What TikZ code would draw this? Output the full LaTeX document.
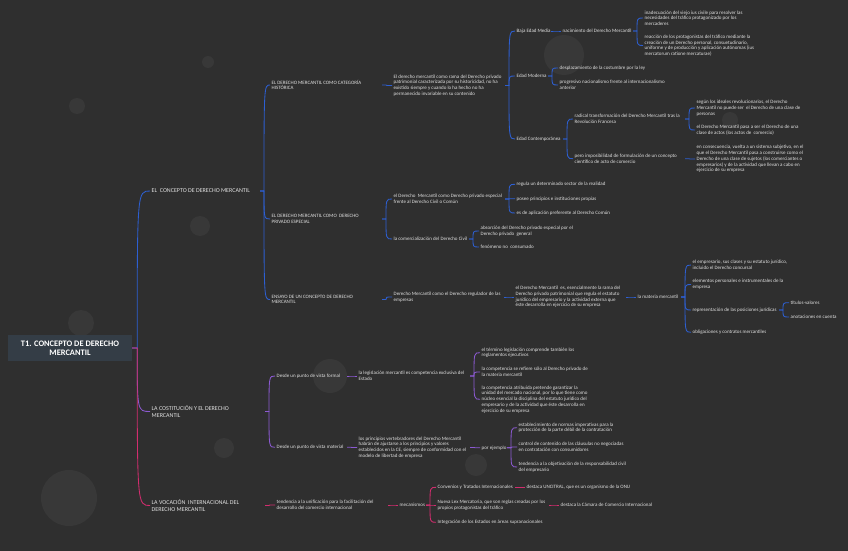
\documentclass[tikz,border=0pt]{standalone}
\usepackage{fontspec}
\setmainfont{Carlito}
\usepackage{tikz}
\usetikzlibrary{calc}
\definecolor{Fondo}{RGB}{47,47,47}
\definecolor{Burbuja}{RGB}{56,56,56}
\definecolor{CajaRaiz}{RGB}{52,61,70}
\definecolor{AzulRama}{RGB}{45,95,210}
\definecolor{MoradoRama}{RGB}{140,90,210}
\definecolor{RosaRama}{RGB}{210,45,110}
\definecolor{TextoGris}{RGB}{225,225,225}

\begin{document}
\begin{tikzpicture}[x=1pt,y=-1pt,
  txt/.style={anchor=west,align=left,inner sep=1.5pt,text=TextoGris,font=\fontsize{5}{5.7}\selectfont},
  cat/.style={txt,font=\fontsize{6}{7}\selectfont},
  raiz/.style={fill=CajaRaiz,text=white,align=center,minimum width=124,minimum height=26,inner sep=2pt,font=\fontsize{8.4}{9.2}\selectfont\bfseries},
  tronco/.style={line width=0.85pt,to path={-- ++(5,0) .. controls ($(\tikztostart |- \tikztotarget)+(5,0)$) .. (\tikztotarget)}},
  rama/.style={line width=0.85pt,to path={($(\tikztostart -| \tikztotarget)+(-10,0)$) -- ++(4,0) .. controls ($(\tikztotarget)+(-6,0)$) .. (\tikztotarget)}}]
  \fill[Fondo] (0,0) rectangle (848,551);
  \useasboundingbox (0,0) rectangle (848,551);
  \foreach \cx/\cy/\r in {77/106/8,208/62/6,200/226/10,81/323/13,224/448/10,69/498/28,564/55/20,730/120/8,330/376/17,476/465/11}
    \fill[Burbuja] (\cx,\cy) circle (\r);

  \node[raiz] (root) at (70,348) {T1. CONCEPTO DE DERECHO\\MERCANTIL};
  \node[cat] (conc) at (150,191) {EL\ \ CONCEPTO DE DERECHO MERCANTIL};
  \node[cat] (const) at (150,411.5) {LA COSTITUCIÓN Y EL DERECHO\\MERCANTIL};
  \node[cat] (voc) at (150,505.5) {LA VOCACIÓN\ \ INTERNACIONAL DEL\\DERECHO MERCANTIL};

  \node[txt] (hist) at (270,85) {EL DERECHO MERCANTIL COMO CATEGORÍA\\HISTÓRICA};
  \node[txt] (priv) at (270,219) {EL DERECHO MERCANTIL COMO\ \ DERECHO\\PRIVADO ESPECIAL};
  \node[txt] (ens) at (270,299.5) {ENSAYO DE UN CONCEPTO DE DERECHO\\MERCANTIL};

  \node[txt] (ramapriv) at (392,85.5) {El derecho mercantil como rama del Derecho privado\\patrimonial caracterizada por su historicidad, no ha\\existido siempre y cuando lo ha hecho no ha\\permanecido invariable en su contenido};
  \node[txt] (baja) at (515,31) {Baja Edad Media};
  \node[txt] (moderna) at (515,76) {Edad Moderna};
  \node[txt] (contemp) at (515,139) {Edad Contemporánea};
  \node[txt] (nacim) at (561,31) {nacimiento del Derecho Mercantil};
  \node[txt] (inad) at (643,18) {inadecuación del viejo ius civile para resolver las\\necesidades del tráfico protagonizado por los\\mercaderes};
  \node[txt] (reacc) at (643,45.5) {reacción de los protagonistas del tráfico mediante la\\creación de un Derecho personal, consuetudinario,\\uniforme y de producción y aplicación autónomas (ius\\mercatorum ratione mercaturae)};
  \node[txt] (despl) at (558,68) {desplazamiento de la costumbre por la ley};
  \node[txt] (progr) at (558,85) {progresivo nacionalismo frente al internacionalismo\\anterior};
  \node[txt] (radical) at (573,119) {radical transformación del Derecho Mercantil tras la\\Revolución Francesa};
  \node[txt] (imposib) at (573,158.7) {pero imposibilidad de formulación de un concepto\\científico de acto de comercio};
  \node[txt] (ideales) at (695,108) {según los ideales revolucionarios, el Derecho\\Mercantil no puede ser\ \ el Derecho de una clase de\\personas};
  \node[txt] (actos) at (695,130) {el Derecho Mercantil pasa a ser el Derecho de una\\clase de actos (los actos de\ \ comercio)};
  \node[txt] (subjet) at (695,159) {en consecuencia, vuelta a un sistema subjetivo, en el\\que el Derecho Mercantil pasa a construirse como el\\Derecho de una clase de sujetos (los comerciantes o\\empresarios) y de la actividad que llevan a cabo en\\ejercicio de su empresa};

  \node[txt] (especial) at (392,199) {el Derecho\ \ Mercantil como Derecho privado especial\\frente al Derecho Civil o Común};
  \node[txt] (comerc) at (392,239) {la comercialización del Derecho Civil};
  \node[txt] (sector) at (515,184.3) {regula un determinado sector de la realidad};
  \node[txt] (princ) at (515,198.7) {posee principios e instituciones propias};
  \node[txt] (prefer) at (515,213) {es de aplicación preferente al Derecho Común};
  \node[txt] (absorc) at (479,231) {absorción del Derecho privado especial por el\\Derecho privado\ \ general};
  \node[txt] (fenom) at (479,247) {fenómeno no\ \ consumado};

  \node[txt] (regul) at (392,297) {Derecho Mercantil como el Derecho regulador de las\\empresas};
  \node[txt] (esenc) at (514,297) {el Derecho Mercantil\ \ es, esencialmente la rama del\\Derecho privado patrimonial que regula el estatuto\\jurídico del empresario y la actividad externa que\\éste desarrolla en ejercicio de su empresa};
  \node[txt] (materia) at (636,297) {la materia mercantil};
  \node[txt] (empres) at (691,265) {el empresario, sus clases y su estatuto jurídico,\\incluido el Derecho concursal};
  \node[txt] (elem) at (691,284.5) {elementos personales e instrumentales de la\\empresa};
  \node[txt] (repres) at (691,310) {representación de las posiciones jurídicas};
  \node[txt] (oblig) at (691,332.3) {obligaciones y contratos mercantiles};
  \node[txt] (titulos) at (789,302.7) {títulos-valores};
  \node[txt] (anot) at (789,317) {anotaciones en cuenta};

  \node[txt] (formal) at (275,376) {Desde un punto de vista formal};
  \node[txt] (material) at (275,447.3) {Desde un punto de vista material};
  \node[txt] (legisl) at (357,376) {la legislación mercantil es competencia exclusiva del\\Estado};
  \node[txt] (termino) at (480,352.7) {el término legislación comprende también los\\reglamentos ejecutivos};
  \node[txt] (compet) at (480,372) {la competencia se refiere sólo al Derecho privado de\\la materia mercantil};
  \node[txt] (garant) at (480,399.3) {la competencia atribuida pretende garantizar la\\unidad del mercado nacional, por lo que tiene como\\núcleo esencial la disciplina del estatuto jurídico del\\empresario y de la actividad que éste desarrolla en\\ejercicio de su empresa};
  \node[txt] (princv) at (357,447.5) {los principios vertebradores del Derecho Mercantil\\habrán de ajustarse a los principios y valores\\establecidos en la CE, siempre de conformidad con el\\modelo de libertad de empresa};
  \node[txt] (ejemplo) at (480,447.7) {por ejemplo};
  \node[txt] (imper) at (517,427.7) {establecimiento de normas imperativas para la\\protección de la parte débil de la contratación};
  \node[txt] (clausu) at (517,447) {control de contenido de las cláusulas no negociadas\\en contratación con consumidores};
  \node[txt] (objet) at (517,467) {tendencia a la objetivación de la responsabilidad civil\\del empresario};

  \node[txt] (unif) at (275,505) {tendencia a la unificación para la facilitación del\\desarrollo del comercio internacional};
  \node[txt] (mecan) at (398,505) {mecanismos};
  \node[txt] (conven) at (436,487.3) {Convenios y Tratados Internacionales};
  \node[txt] (lex) at (436,505) {Nueva Lex Mercatoria, que son reglas creadas por los\\propios protagonistas del tráfico};
  \node[txt] (integr) at (436,522.3) {Integración de los Estados en áreas supranacionales};
  \node[txt] (uncitral) at (525,487.3) {destaca UNCITRAL, que es un organismo de la ONU};
  \node[txt] (camara) at (559,505) {destaca la Cámara de Comercio Internacional};

  \draw[tronco,AzulRama] (root.east) to (conc.west);
  \draw[tronco,MoradoRama] (root.east) to (const.west);
  \draw[tronco,RosaRama] (root.east) to (voc.west);
  \foreach \a/\b in {conc/hist,conc/priv,conc/ens,hist/ramapriv,ramapriv/baja,ramapriv/moderna,ramapriv/contemp,
    baja/nacim,nacim/inad,nacim/reacc,moderna/despl,moderna/progr,contemp/radical,contemp/imposib,
    radical/ideales,radical/actos,imposib/subjet,priv/especial,priv/comerc,especial/sector,especial/princ,
    especial/prefer,comerc/absorc,comerc/fenom,ens/regul,regul/esenc,esenc/materia,materia/empres,
    materia/elem,materia/repres,materia/oblig,repres/titulos,repres/anot}
    \draw[rama,AzulRama] (\a.east) to (\b.west);
  \foreach \a/\b in {const/formal,const/material,formal/legisl,legisl/termino,legisl/compet,legisl/garant,
    material/princv,princv/ejemplo,ejemplo/imper,ejemplo/clausu,ejemplo/objet}
    \draw[rama,MoradoRama] (\a.east) to (\b.west);
  \foreach \a/\b in {voc/unif,unif/mecan,mecan/conven,mecan/lex,mecan/integr,conven/uncitral,lex/camara}
    \draw[rama,RosaRama] (\a.east) to (\b.west);
\end{tikzpicture}
\end{document}
